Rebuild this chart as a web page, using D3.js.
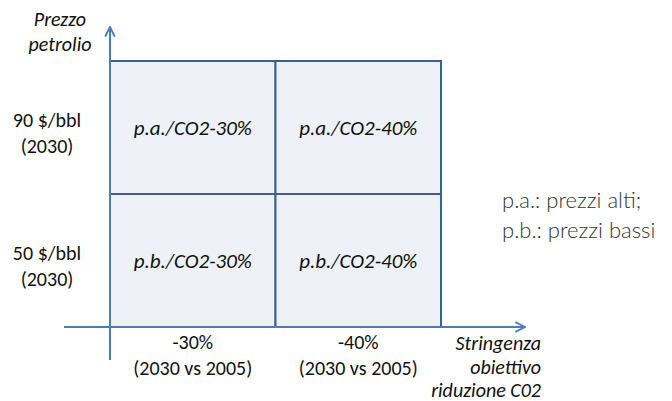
<!DOCTYPE html>
<html>
<head>
<meta charset="utf-8">
<script src="https://cdn.jsdelivr.net/npm/d3@7"></script>
<style>
  body { margin: 0; background: #fff; }
  text { font-family: Carlito, "Open Sans", "Liberation Sans", sans-serif; fill: #111; }
</style>
</head>
<body>
<div id="chart"></div>
<script>
// data
var xCats = ["-30%", "-40%"];
var xSub = ["(2030 vs 2005)", "(2030 vs 2005)"];
var yCats = ["90 $/bbl", "50 $/bbl"];
var ySub = ["(2030)", "(2030)"];
var rowKeys = ["p.a.", "p.b."];
var colKeys = ["CO2-30%", "CO2-40%"];
var yTitle = ["Prezzo", "petrolio"];
var xTitle = ["Stringenza", "obiettivo", "riduzione C02"];
var legend = ["p.a.: prezzi alti;", "p.b.: prezzi bassi"];

var width = 672, height = 401;
var svg = d3.select("#chart").append("svg")
    .attr("width", width)
    .attr("height", height);

// grid area
var x = d3.scaleBand().domain(xCats).range([110, 441]);
var y = d3.scaleBand().domain(yCats).range([61, 327]);

var cells = [];
yCats.forEach(function(r, i){
  xCats.forEach(function(c, j){
    cells.push({row: r, col: c, label: rowKeys[i] + "/" + colKeys[j]});
  });
});

svg.selectAll("rect.cell")
    .data(cells)
  .enter().append("rect")
    .attr("class", "cell")
    .attr("x", function(d){ return x(d.col); })
    .attr("y", function(d){ return y(d.row); })
    .attr("width", x.bandwidth())
    .attr("height", y.bandwidth())
    .style("fill", "#eef2f8")
    .style("stroke", "#3b6190")
    .style("stroke-width", 2);

svg.selectAll("text.cell")
    .data(cells)
  .enter().append("text")
    .attr("class", "cell")
    .attr("x", function(d){ return x(d.col) + x.bandwidth()/2; })
    .attr("y", function(d){ return y(d.row) + y.bandwidth()/2 + 7; })
    .attr("text-anchor", "middle")
    .style("font-style", "italic")
    .style("font-size", "21px")
    .text(function(d){ return d.label; });

// axes with arrows
var axisColor = "#4a7cb6";
svg.append("defs").append("marker")
    .attr("id", "arrow")
    .attr("viewBox", "0 0 10 10")
    .attr("refX", 9).attr("refY", 5)
    .attr("markerWidth", 6).attr("markerHeight", 6)
    .attr("orient", "auto")
  .append("path")
    .attr("d", "M1,1 L9,5 L1,9")
    .style("fill", "none")
    .style("stroke", axisColor)
    .style("stroke-width", 1.6);

svg.append("line")
    .attr("x1", 110).attr("y1", 360)
    .attr("x2", 110).attr("y2", 27)
    .style("stroke", axisColor).style("stroke-width", 2)
    .attr("marker-end", "url(#arrow)");

svg.append("line")
    .attr("x1", 64).attr("y1", 327)
    .attr("x2", 525).attr("y2", 327)
    .style("stroke", axisColor).style("stroke-width", 2)
    .attr("marker-end", "url(#arrow)");

// x category labels
var xl = svg.selectAll("g.xlab").data(xCats).enter().append("g").attr("class", "xlab");
xl.append("text")
    .attr("x", function(d){ return x(d) + x.bandwidth()/2; })
    .attr("y", 349)
    .attr("text-anchor", "middle")
    .style("font-size", "20px")
    .text(function(d){ return d; });
xl.append("text")
    .attr("x", function(d){ return x(d) + x.bandwidth()/2; })
    .attr("y", 375)
    .attr("text-anchor", "middle")
    .style("font-size", "20px")
    .text(function(d, i){ return xSub[i]; });

// y category labels
var yl = svg.selectAll("g.ylab").data(yCats).enter().append("g").attr("class", "ylab");
yl.append("text")
    .attr("x", 47)
    .attr("y", function(d){ return y(d) + y.bandwidth()/2 - 0.5; })
    .attr("text-anchor", "middle")
    .style("font-size", "20px")
    .text(function(d){ return d; });
yl.append("text")
    .attr("x", 47)
    .attr("y", function(d){ return y(d) + y.bandwidth()/2 + 25; })
    .attr("text-anchor", "middle")
    .style("font-size", "20px")
    .text(function(d, i){ return ySub[i]; });

// axis titles
svg.selectAll("text.ytitle").data(yTitle).enter().append("text")
    .attr("class", "ytitle")
    .attr("x", 60)
    .attr("y", function(d, i){ return 26 + i * 25; })
    .attr("text-anchor", "middle")
    .style("font-style", "italic")
    .style("font-size", "20px")
    .text(function(d){ return d; });

svg.selectAll("text.xtitle").data(xTitle).enter().append("text")
    .attr("class", "xtitle")
    .attr("x", 541)
    .attr("y", function(d, i){ return 350 + i * 23.5; })
    .attr("text-anchor", "end")
    .style("font-style", "italic")
    .style("font-size", "20px")
    .text(function(d){ return d; });

// legend note
svg.selectAll("text.note").data(legend).enter().append("text")
    .attr("class", "note")
    .attr("x", 502)
    .attr("y", function(d, i){ return 208 + i * 30; })
    .style("font-family", "Lato, sans-serif")
    .style("font-weight", 300)
    .style("font-size", "22px")
    .style("fill", "#333")
    .text(function(d){ return d; });
</script>
</body>
</html>
